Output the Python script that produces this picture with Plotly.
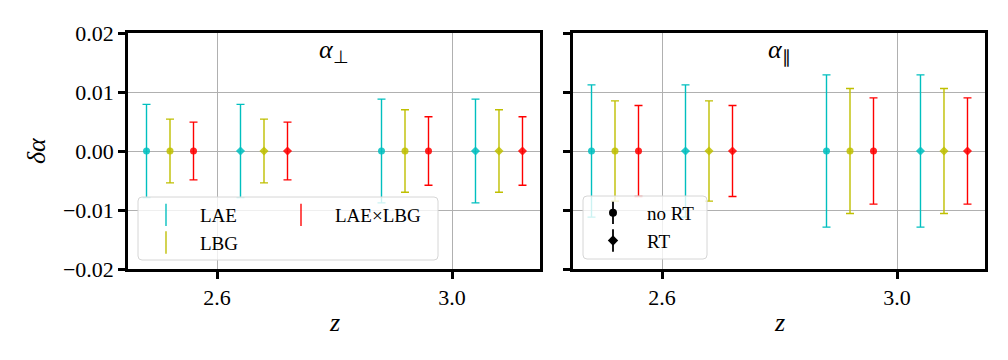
import plotly.graph_objects as go
from plotly.subplots import make_subplots

# redshift bin centres, tracer offsets, RT flag per bin
z_bins = [2.52, 2.68, 2.92, 3.08]
rt_flags = [False, True, False, True]
tracers = ["LAE", "LBG", "LAE×LBG"]
tracer_offsets = [-0.04, 0.0, 0.04]
tracer_colors = ["#00bfbf", "#bfbf00", "#ff0000"]

delta_alpha = [0.0, 0.0, 0.0, 0.0]

# 1-sigma errors on alpha_perp
err_perp_lae = [0.0079, 0.0079, 0.0088, 0.0088]
err_perp_lbg = [0.0054, 0.0054, 0.0070, 0.0070]
err_perp_x = [0.0049, 0.0049, 0.0058, 0.0058]

# 1-sigma errors on alpha_par
err_par_lae = [0.0112, 0.0112, 0.0129, 0.0129]
err_par_lbg = [0.0085, 0.0085, 0.0106, 0.0106]
err_par_x = [0.0077, 0.0077, 0.0090, 0.0090]

panel_titles = ["<i>α</i><sub>⊥</sub>", "<i>α</i><sub>∥</sub>"]
x_ticks = [2.6, 3.0]
x_ticktext = ["2.6", "3.0"]

# page body has an 8px margin, so the paper is laid out in screen px minus 8
W, H = 1000, 352
OFF = 8
FONT = "Liberation Serif"
GRID = "#b0b0b0"


def px(x):
    return (x - OFF) / W


def py(y):
    return 1 - (y - OFF) / H


fig = make_subplots(rows=1, cols=2, shared_yaxes=False)

panels = [
    [err_perp_lae, err_perp_lbg, err_perp_x],
    [err_par_lae, err_par_lbg, err_par_x],
]
symbols = ["diamond" if rt else "circle" for rt in rt_flags]

for col, errs in enumerate(panels, start=1):
    for name, off, c, err in zip(tracers, tracer_offsets, tracer_colors, errs):
        fig.add_trace(
            go.Scatter(
                x=[z + off for z in z_bins],
                y=delta_alpha,
                mode="markers",
                marker=dict(color=c, size=7, symbol=symbols, opacity=0.85),
                error_y=dict(type="data", array=err, visible=True,
                             color=c, thickness=1.4, width=4),
                showlegend=False,
            ),
            row=1, col=col,
        )

# legend proxies: tracers (left panel)
for i, (name, c) in enumerate(zip(tracers, tracer_colors)):
    fig.add_trace(
        go.Scatter(
            x=[None], y=[None], mode="markers", name=name,
            marker=dict(symbol="line-ns", size=16, color=c,
                        line=dict(color=c, width=1.6), opacity=0.85),
            legend="legend" if i < 2 else "legend2",
        ),
        row=1, col=1,
    )

# legend proxies: RT / no RT (right panel), marker plus a vertical bar
for name, sym in [("no RT", "circle"), ("RT", "diamond")]:
    fig.add_trace(
        go.Scatter(
            x=[None], y=[None], mode="markers", name=name,
            marker=dict(symbol=sym, size=8, color="black"),
            legend="legend3",
        ),
        row=1, col=2,
    )
    fig.add_trace(
        go.Scatter(
            x=[None], y=[None], mode="markers", name=" ",
            marker=dict(symbol="line-ns", size=18, color="black",
                        line=dict(color="black", width=1.8)),
            legend="legend4",
        ),
        row=1, col=2,
    )

axis_common = dict(
    showline=True, mirror=True, linecolor="black", linewidth=2.5,
    ticks="outside", ticklen=7, tickwidth=2.5, tickcolor="black",
    showgrid=True, gridcolor=GRID, gridwidth=0.8, zeroline=False,
    automargin=False,
    tickfont=dict(family=FONT, size=22, color="black"),
)

fig.update_xaxes(axis_common, range=[2.4485, 3.1498], tickvals=x_ticks,
                 ticktext=x_ticktext)
fig.update_yaxes(axis_common, range=[-0.02, 0.02], dtick=0.01,
                 tickformat=".2f")
fig.update_yaxes(showticklabels=False, row=1, col=2)

fig.update_layout(
    xaxis=dict(domain=[px(128), px(540)]),
    xaxis2=dict(domain=[px(573), px(985)]),
    yaxis=dict(domain=[py(269), py(33)]),
    yaxis2=dict(domain=[py(269), py(33)]),
)


def rounded_box(x0, y0, x1, y1, r=4):
    ax0, ax1 = px(x0), px(x1)
    ay0, ay1 = py(y1), py(y0)
    rx, ry = r / W, r / H
    return (f"M {ax0 + rx},{ay0} L {ax1 - rx},{ay0} Q {ax1},{ay0} {ax1},{ay0 + ry} "
            f"L {ax1},{ay1 - ry} Q {ax1},{ay1} {ax1 - rx},{ay1} "
            f"L {ax0 + rx},{ay1} Q {ax0},{ay1} {ax0},{ay1 - ry} "
            f"L {ax0},{ay0 + ry} Q {ax0},{ay0} {ax0 + rx},{ay0} Z")


for box in [(138, 197, 438, 260), (583, 196, 707, 259)]:
    fig.add_shape(type="path", path=rounded_box(*box), xref="paper",
                  yref="paper", fillcolor="rgba(255,255,255,0.8)",
                  line=dict(color="#d6d6d6", width=1), layer="above")

legend_common = dict(
    bgcolor="rgba(0,0,0,0)", borderwidth=0, xanchor="left", yanchor="top",
    font=dict(family=FONT, size=19, color="black"), itemwidth=58,
    tracegroupgap=0,
)
fig.update_layout(
    legend=dict(legend_common, x=px(132), y=py(196)),
    legend2=dict(legend_common, x=px(267), y=py(196)),
    legend3=dict(legend_common, x=px(579), y=py(194)),
    legend4=dict(legend_common, x=px(579), y=py(194)),
)

annotations = [
    dict(x=px(334), y=py(51), text=panel_titles[0]),
    dict(x=px(779), y=py(51), text=panel_titles[1]),
    dict(x=px(334), y=py(322), text="<i>z</i>"),
    dict(x=px(779), y=py(322), text="<i>z</i>"),
    dict(x=px(36), y=py(151), text="<i>δα</i>", textangle=-90),
]
for a in annotations:
    fig.add_annotation(a, xref="paper", yref="paper", showarrow=False,
                       xanchor="center", yanchor="middle",
                       font=dict(family=FONT, size=26, color="black"))

fig.update_layout(
    width=W, height=H,
    margin=dict(l=0, r=0, t=0, b=0, autoexpand=False),
    paper_bgcolor="white", plot_bgcolor="white",
)

fig.write_html("out.html")
